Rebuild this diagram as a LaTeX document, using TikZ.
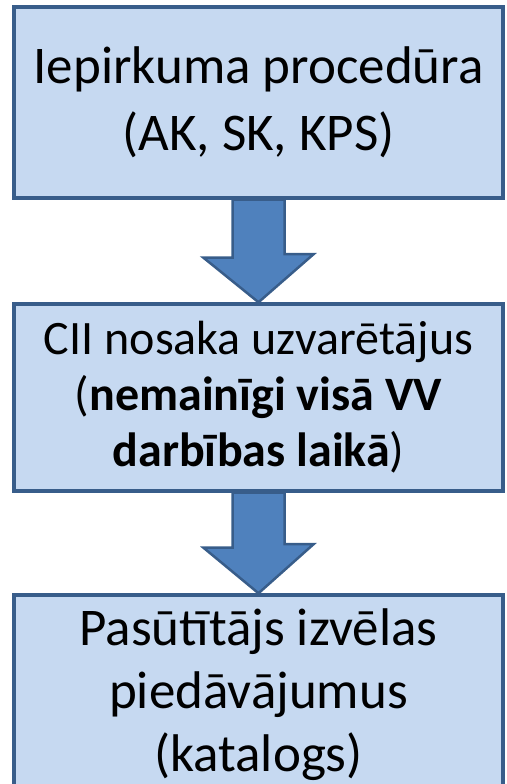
\documentclass[tikz,border=0pt]{standalone}
\usepackage{fontspec}
\setmainfont{Carlito}
\usepackage{tikz}
\definecolor{colorBox}{HTML}{C6D9F1}
\definecolor{colorEdge}{HTML}{385D8A}
\definecolor{colorArrow}{HTML}{4F81BD}
\usetikzlibrary{calc}
\tikzset{
   stepbox/.style={rectangle,draw=colorEdge,fill=colorBox,line width=3.5pt,
      minimum width=489pt,align=center,inner sep=0pt},
   blockarrow/.style={draw=colorEdge,fill=colorArrow,line width=2.5pt,line join=miter},
}
\begin{document}
\begin{tikzpicture}[x=1pt,y=1pt]
        \clip (0,0) rectangle (506,784);
        \useasboundingbox (0,0) rectangle (506,784);

        \node[stepbox, minimum height=191pt, font=\fontsize{53}{67}\selectfont]
           (proc) at (258.5, 681.5) {Iepirkuma procedūra\\(AK, SK, KPS)};
        \node[stepbox, minimum height=187pt, font=\fontsize{48}{56}\selectfont]
           (winners) at (258.5, 386.5) {CII nosaka uzvarētājus\\(\textbf{nemainīgi visā VV}\\\textbf{darbības laikā})};
        \node[stepbox, minimum height=200pt, font=\fontsize{53}{63}\selectfont]
           (choice) at (258.5, 89) {Pasūtītājs izvēlas\\piedāvājumus\\(katalogs)};

        \draw[blockarrow] ($(proc.south)+(-26,0)$) -- ++(0,-58) -- ++(-29,0)
           -- (winners.north) -- ++(55,48) -- ++(-29,0) -- ($(proc.south)+(26,0)$) -- cycle;
        \draw[blockarrow] ($(winners.south)+(-26,0)$) -- ++(0,-55) -- ++(-29,0)
           -- (choice.north) -- ++(55,49) -- ++(-29,0) -- ($(winners.south)+(26,0)$) -- cycle;
      \end{tikzpicture}
\end{document}
